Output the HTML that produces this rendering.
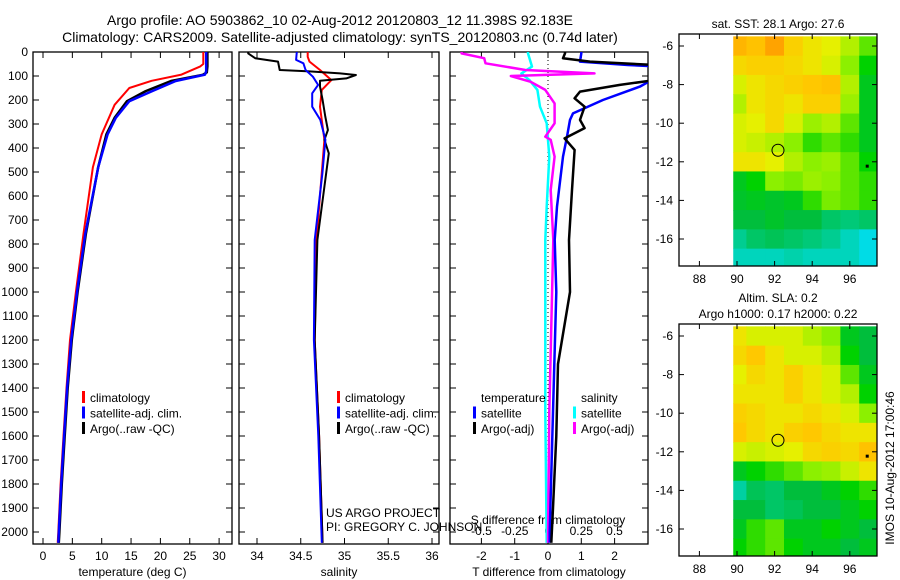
<!DOCTYPE html>
<html><head><meta charset="utf-8">
<style>
body{margin:0;background:#fff;}
svg{display:block;font-family:"Liberation Sans",sans-serif;}
</style></head>
<body>
<svg id="fig" width="900" height="580" viewBox="0 0 900 580">
<text x="340" y="25" font-size="14" text-anchor="middle">Argo profile: AO 5903862_10 02-Aug-2012 20120803_12 11.398S 92.183E</text>
<text x="340" y="42" font-size="14" text-anchor="middle">Climatology: CARS2009. Satellite-adjusted climatology: synTS_20120803.nc (0.74d later)</text>
</svg>
<script>
// ---------- DATA ----------
const depthTicks=[0,100,200,300,400,500,600,700,800,900,1000,1100,1200,1300,1400,1500,1600,1700,1800,1900,2000];
const tempTicks=[0,5,10,15,20,25,30];
const salTicks=[34,34.5,35,35.5,36];
const salTickLabels=["34","34.5","35","35.5","36"];
const tdiffTicks=[-2,-1,0,1,2];
const sdiffTicks=[-0.5,-0.25,0,0.25,0.5];
const sdiffTickLabels=["-0.5","-0.25","0","0.25","0.5"];

const tClimDepth=[0,50,60,94,120,150,220,343,480,757,1000,1200,1400,1600,1800,2000,2045];
const tClimVal=[27.3,27.3,26.8,23.6,18.5,14.7,12.2,10,8.5,6.9,5.6,4.6,4.0,3.5,3.0,2.6,2.5];
const tSatDepth=[0,60,80,94,121,163,205,274,343,480,757,1000,1200,1400,1600,1800,2000,2045];
const tSatVal=[27.8,27.8,27.8,27.6,22.6,18.6,14.7,12.4,11,9.4,7.2,5.8,4.8,4.1,3.6,3.1,2.7,2.6];
const tArgoDepth=[0,60,85,95,121,163,205,274,343,480,757,1000,1200,1400,1600,1800,2000,2045];
const tArgoVal=[28,28,27.9,27.2,21.8,17.5,14.3,12.2,10.8,9.4,7.3,5.9,4.9,4.2,3.7,3.2,2.8,2.7];

const sClimDepth=[0,20,40,75,117,158,228,366,783,1200,1600,2045];
const sClimVal=[34.58,34.58,34.6,34.72,34.85,34.74,34.72,34.77,34.68,34.66,34.71,34.75];
const sSatDepth=[0,33,47,75,103,137,172,228,283,366,505,783,1200,1600,2045];
const sSatVal=[34.455,34.447,34.53,34.556,34.639,34.698,34.631,34.631,34.723,34.782,34.748,34.66,34.65,34.70,34.74];
const sArgoDepth=[0,6,26,40,75,81,89,96,110,120,144,200,269,325,366,422,783,1200,1600,2045];
const sArgoVal=[33.90,33.90,33.98,34.24,34.26,34.60,34.95,35.13,35.02,34.72,34.72,34.75,34.78,34.81,34.77,34.82,34.69,34.66,34.71,34.75];

const dtSatDepth=[0,6,40,54,60,110,144,200,256,283,353,436,644,783,1000,1500,2000,2045];
const dtSatVal=[1.0,1.0,0.96,2.4,3.2,3.2,2.76,1.65,0.75,0.66,0.57,0.45,0.27,0.2,0.25,0.15,0.05,0.05];
const dtArgoDepth=[0,6,26,40,54,117,137,165,193,228,283,317,360,408,575,783,1000,1300,1600,1900,2045];
const dtArgoVal=[0.51,0.51,0.45,1.26,3.2,3.2,2.16,0.96,0.8,1.1,0.96,1.1,0.5,0.8,0.72,0.63,0.66,0.3,0.25,0.15,0.1];
const dsArgoDepth=[0,6,26,47,75,89,100,124,158,214,297,353,366,436,575,783,1500,2045];
const dsArgoVal=[-0.65,-0.65,-0.48,-0.47,-0.17,0.35,-0.28,-0.13,-0.02,0.05,0.05,-0.02,0.02,0.05,0.02,0.04,0.01,0.0];
const dsSatDepth=[0,6,61,89,117,158,228,297,436,644,783,1500,2045];
const dsSatVal=[-0.15,-0.15,-0.12,-0.2,-0.14,-0.08,-0.06,-0.01,0.01,-0.01,-0.02,-0.02,-0.01];

const mapLons=[90,91,92,93,94,95,96,97];
const mapLats=[-6,-7,-8,-9,-10,-11,-12,-13,-14,-15,-16,-17];
const sstVals=[
[.95,.93,.98,.9,.85,.82,.75,.65],
[.88,.9,.9,.88,.85,.8,.7,.55],
[.8,.85,.88,.9,.92,.93,.75,.5],
[.75,.85,.88,.85,.9,.9,.72,.5],
[.8,.82,.88,.8,.72,.75,.65,.5],
[.8,.78,.75,.7,.6,.65,.6,.5],
[.85,.85,.82,.75,.7,.72,.65,.55],
[.5,.55,.7,.68,.72,.7,.65,.6],
[.48,.5,.48,.5,.6,.68,.65,.6],
[.45,.45,.48,.45,.45,.4,.38,.4],
[.35,.4,.42,.4,.38,.35,.3,.25],
[.3,.3,.3,.32,.3,.3,.3,.25]];
const slaVals=[
[.85,.8,.8,.8,.75,.7,.5,.45],
[.88,.92,.85,.8,.8,.75,.55,.45],
[.82,.88,.85,.9,.85,.8,.65,.5],
[.85,.85,.85,.9,.85,.8,.75,.55],
[.9,.88,.85,.85,.88,.85,.8,.7],
[.92,.88,.85,.9,.92,.88,.85,.85],
[.8,.78,.8,.82,.88,.9,.88,.93],
[.5,.55,.6,.65,.7,.72,.78,.85],
[.33,.42,.4,.45,.45,.5,.55,.6],
[.45,.45,.4,.42,.45,.45,.5,.55],
[.5,.6,.65,.5,.5,.55,.5,.45],
[.55,.6,.65,.55,.5,.5,.45,.5]];
const mapXTicks=[88,90,92,94,96];
const mapYTicks=[-6,-8,-10,-12,-14,-16];
const floatLon=92.18, floatLat=-11.4;

// ---------- DRAW ----------
const NS="http://www.w3.org/2000/svg";
const svg=document.getElementById('fig');
function mk(tag,attrs,parent){const e=document.createElementNS(NS,tag);for(const k in attrs)e.setAttribute(k,attrs[k]);(parent||svg).appendChild(e);return e;}
function txt(x,y,s,size,anchor,parent){const t=mk('text',{x:x,y:y,'font-size':size,'text-anchor':anchor||'middle'},parent);t.textContent=s;return t;}

const TOP=52,BOT=544;
const yD=d=>TOP+d*0.24;
const panels=[{l:33,r:232},{l:239,r:439},{l:450,r:648}];
const xT=v=>43+v*5.87;
const xS=v=>257+(v-34)*87.5;
const xDT=v=>548+v*33.3;
const xDS=v=>548+v*133;

panels.forEach((p,i)=>{
  const g=mk('g',{});
  
  
  const fr=mk('rect',{x:p.l,y:TOP,width:p.r-p.l,height:BOT-TOP,fill:'none',stroke:'#000','stroke-width':1.3},g);
  
  
  depthTicks.forEach(d=>{
    mk('line',{x1:p.l,x2:p.l+6,y1:yD(d),y2:yD(d),stroke:'#000'},g);
    mk('line',{x1:p.r,x2:p.r-6,y1:yD(d),y2:yD(d),stroke:'#000'},g);
  });
});
const dl=mk('g',{});


depthTicks.forEach(d=>txt(28,yD(d)+4,String(d),12,'end',dl));

function xAxis(ticks,labels,fx,p,title,name){
  const g=mk('g',{});
  
  
  ticks.forEach((t,i)=>{
    mk('line',{x1:fx(t),x2:fx(t),y1:BOT,y2:BOT-6,stroke:'#000'},g);
    mk('line',{x1:fx(t),x2:fx(t),y1:TOP,y2:TOP+6,stroke:'#000'},g);
    txt(fx(t),BOT+16,labels[i],12,'middle',g);
  });
  const tt=txt((p.l+p.r)/2,BOT+32,title,12,'middle',g);
  
  
}
xAxis(tempTicks,tempTicks.map(String),xT,panels[0],'temperature (deg C)','x-axis-temperature');
xAxis(salTicks,salTickLabels,xS,panels[1],'salinity','x-axis-salinity');
xAxis(tdiffTicks,tdiffTicks.map(String),xDT,panels[2],'T difference from climatology','x-axis-t-difference');
const sg=mk('g',{});


sdiffTicks.forEach((t,i)=>txt(xDS(t),535,sdiffTickLabels[i],12,'middle',sg));
txt(548,524,'S difference from climatology',12,'middle',sg);
const zl=mk('line',{x1:xDT(0),x2:xDT(0),y1:TOP,y2:BOT,stroke:'#000','stroke-dasharray':'1,3'});



const clipDefs=mk('defs',{});
panels.forEach((p,i)=>{const c=mk('clipPath',{id:'clip'+i},clipDefs);mk('rect',{x:p.l,y:TOP,width:p.r-p.l,height:BOT-TOP},c);});

function line(depths,vals,fx,color,w,clip,name){
  const pts=depths.map((d,i)=>fx(vals[i]).toFixed(1)+','+yD(d).toFixed(1)).join(' ');
  const pl=mk('polyline',{points:pts,fill:'none',stroke:color,'stroke-width':w,'clip-path':'url(#clip'+clip+')','stroke-linejoin':'round'});
  
  
}
line(tClimDepth,tClimVal,xT,'#f00',2,0,'temp-climatology-line');
line(tArgoDepth,tArgoVal,xT,'#000',2.5,0,'temp-argo-line');
line(tSatDepth,tSatVal,xT,'#00f',2.5,0,'temp-satellite-line');
line(sClimDepth,sClimVal,xS,'#f00',2,1,'sal-climatology-line');
line(sArgoDepth,sArgoVal,xS,'#000',2,1,'sal-argo-line');
line(sSatDepth,sSatVal,xS,'#00f',2,1,'sal-satellite-line');
line(dsSatDepth,dsSatVal,xDS,'#0ff',2.5,2,'sdiff-satellite-line');
line(dsArgoDepth,dsArgoVal,xDS,'#f0f',2.5,2,'sdiff-argo-line');
line(dtSatDepth,dtSatVal,xDT,'#00f',2.5,2,'tdiff-satellite-line');
line(dtArgoDepth,dtArgoVal,xDT,'#000',2.5,2,'tdiff-argo-line');

function legend(x,y,items,name){
  const g=mk('g',{});
  
  
  items.forEach((it,i)=>{
    if(it[1]) mk('rect',{x:x,y:y+i*15.5-11,width:3,height:12,fill:it[1]},g);
    txt(x+8,y+i*15.5,it[0],12,'start',g);
  });
}
legend(82,402,[['climatology','#f00'],['satellite-adj. clim.','#00f'],['Argo(..raw -QC)','#000']],'legend-temperature');
legend(337,402,[['climatology','#f00'],['satellite-adj. clim.','#00f'],['Argo(..raw -QC)','#000']],'legend-salinity');
legend(473,402,[['temperature',null],['satellite','#00f'],['Argo(-adj)','#000']],'legend-tdiff');
legend(573,402,[['salinity',null],['satellite','#0ff'],['Argo(-adj)','#f0f']],'legend-sdiff');
const cr=mk('g',{});


txt(326,517,'US ARGO PROJECT',12,'start',cr);
txt(326,531,'PI: GREGORY C. JOHNSON',12,'start',cr);

function jet(v){
  const stops=[[0,[0,80,255]],[0.25,[0,220,230]],[0.45,[0,190,60]],[0.55,[0,210,0]],[0.7,[140,240,0]],[0.82,[230,240,0]],[0.92,[255,200,0]],[1,[255,150,0]]];
  for(let i=1;i<stops.length;i++){if(v<=stops[i][0]){const a=stops[i-1],b=stops[i],f=(v-a[0])/(b[0]-a[0]);return 'rgb('+a[1].map((c,k)=>Math.round(c+(b[1][k]-c)*f)).join(',')+')';}}
  return 'rgb(255,150,0)';
}
function drawMap(oy,vals,name,titles){
  const g=mk('g',{});
  
  
  const L=679,R=877,T=34+oy,B=266+oy;
  const mx=lon=>737+(lon-90)*18.8;
  const my=lat=>46+oy+(-6-lat)*19.3;
  mapLats.forEach((lat,ri)=>mapLons.forEach((lon,ci)=>{
    const x0=Math.max(mx(lon-0.5),mx(89.8)),x1=Math.min(mx(lon+0.5),R);
    const y0=Math.max(my(lat+0.5),T),y1=Math.min(my(lat-0.5),B);
    const c=mk('rect',{x:x0,y:y0,width:x1-x0+0.5,height:y1-y0+0.5,fill:jet(vals[ri][ci])},g);
    
    
  }));
  mk('rect',{x:L,y:T,width:R-L,height:B-T,fill:'none',stroke:'#000','stroke-width':1.3},g);
  mapXTicks.forEach(t=>{mk('line',{x1:mx(t),x2:mx(t),y1:B,y2:B-5,stroke:'#000'},g);mk('line',{x1:mx(t),x2:mx(t),y1:T,y2:T+5,stroke:'#000'},g);txt(mx(t),B+17,String(t),12,'middle',g);});
  mapYTicks.forEach(t=>{mk('line',{x1:L,x2:L+5,y1:my(t),y2:my(t),stroke:'#000'},g);mk('line',{x1:R,x2:R-5,y1:my(t),y2:my(t),stroke:'#000'},g);txt(L-6,my(t)+4,String(t),12,'end',g);});
  const ci=mk('circle',{cx:mx(floatLon),cy:my(floatLat),r:6,fill:'none',stroke:'#000','stroke-width':1},g);
  
  
  mk('rect',{x:mx(96.9)-1,y:my(-12.2)-1,width:3,height:3,fill:'#000'},g);
  titles.forEach((s,i)=>{const t=txt((L+R)/2,T-(titles.length-i)*16+10,s,12,'middle',g);});
}
drawMap(0,sstVals,'sst-map',['sat. SST: 28.1 Argo: 27.6']);
drawMap(290,slaVals,'sla-map',['Altim. SLA: 0.2','Argo h1000: 0.17 h2000: 0.22']);
const st=txt(0,0,'IMOS 10-Aug-2012 17:00:46',12,'middle');
st.setAttribute('transform','translate(894,468) rotate(-90)');


</script>
</body></html>
